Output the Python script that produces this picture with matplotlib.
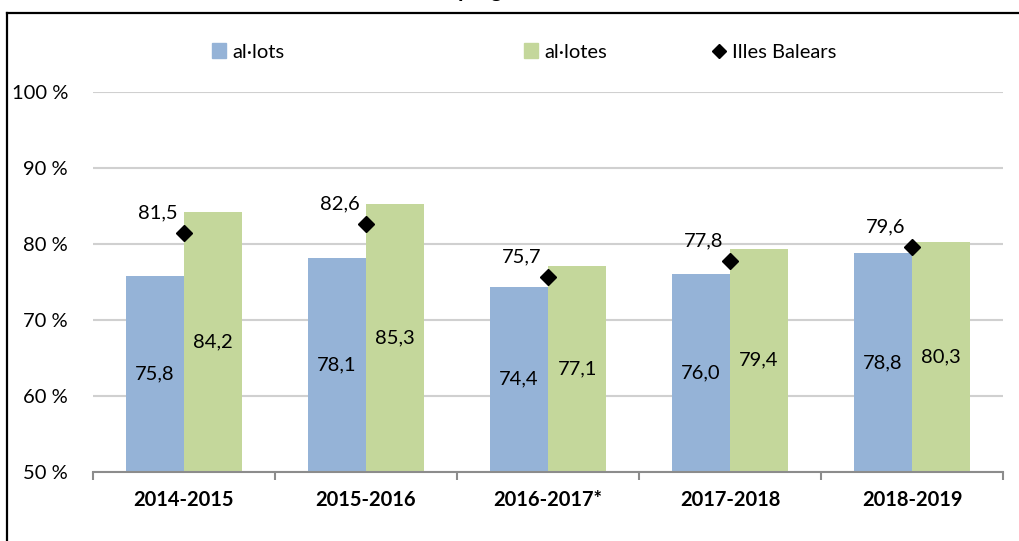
import numpy as np
import matplotlib.pyplot as plt
from matplotlib.patches import Patch
from matplotlib.lines import Line2D

plt.rcParams['font.family'] = ['Lato', 'DejaVu Sans']

cursos = ['2014-2015', '2015-2016', '2016-2017*', '2017-2018', '2018-2019']
allots = [75.8, 78.1, 74.4, 76.0, 78.8]
allotes = [84.2, 85.3, 77.1, 79.4, 80.3]
balears = [81.5, 82.6, 75.7, 77.8, 79.6]
yticks = [50, 60, 70, 80, 90, 100]

c_blue = '#95b3d7'
c_green = '#c4d79b'

W, H = 1019, 541
fig = plt.figure(figsize=(W / 100, H / 100), dpi=100)
ax = fig.add_axes([93 / W, 1 - 472 / H, (1003 - 93) / W, (472 - 92) / H])

x = np.arange(len(cursos))
bw = 0.32
fs = 14.5
ax.bar(x - bw / 2, allots, bw, bottom=0, color=c_blue, zorder=2)
ax.bar(x + bw / 2, allotes, bw, bottom=0, color=c_green, zorder=2)
ax.plot(x, balears, ls='none', marker='D', ms=8.5, color='black', zorder=4)

for xi, v in zip(x, allots):
    ax.text(xi - bw / 2, (50 + v) / 2, f'{v:.1f}'.replace('.', ','),
            ha='center', va='center', fontsize=fs, zorder=5)
for xi, v in zip(x, allotes):
    ax.text(xi + bw / 2, (50 + v) / 2, f'{v:.1f}'.replace('.', ','),
            ha='center', va='center', fontsize=fs, zorder=5)
for xi, v in zip(x, balears):
    ax.annotate(f'{v:.1f}'.replace('.', ','), (xi, v), xytext=(-26, 20),
                textcoords='offset pixels', ha='center', va='center',
                fontsize=fs, zorder=5)

ax.set_xlim(-0.5, len(cursos) - 0.5)
ax.set_ylim(50, 100)
ax.set_yticks(yticks)
ax.set_yticklabels([f'{t} %' for t in yticks], fontsize=fs)
ax.yaxis.grid(True, color='#d0d0d0', lw=1.5, zorder=0)
ax.set_axisbelow(True)
ax.tick_params(axis='y', length=0, pad=18)

ax.set_xticks(x)
ax.set_xticklabels(cursos, fontsize=fs, fontweight='bold')
ax.set_xticks(np.arange(len(cursos) + 1) - 0.5, minor=True)
ax.tick_params(axis='x', which='major', length=0, pad=13)
ax.tick_params(axis='x', which='minor', length=6, color='#8c8c8c', width=1.5)

for s in ['top', 'right', 'left']:
    ax.spines[s].set_visible(False)
ax.spines['bottom'].set_color('#8c8c8c')
ax.spines['bottom'].set_linewidth(1.5)

# legend entries
ly = 1 - 52 / H
fig.legend(handles=[Patch(color=c_blue, label='al·lots')], loc='center left',
           bbox_to_anchor=(194 / W, ly), frameon=False, fontsize=fs,
           handlelength=0.7, handleheight=0.7, handletextpad=0.3)
fig.legend(handles=[Patch(color=c_green, label='al·lotes')], loc='center left',
           bbox_to_anchor=(506 / W, ly), frameon=False, fontsize=fs,
           handlelength=0.7, handleheight=0.7, handletextpad=0.3)
fig.legend(handles=[Line2D([], [], ls='none', marker='D', ms=7.5, color='black',
                           label='Illes Balears')], loc='center left',
           bbox_to_anchor=(692 / W, ly), frameon=False, fontsize=fs,
           handlelength=0.9, handletextpad=0.2)

# frame (top and left edges visible)
fig.add_artist(Line2D([7 / W, 1], [1 - 13 / H, 1 - 13 / H], color='black', lw=1.6))
fig.add_artist(Line2D([7 / W, 7 / W], [0, 1 - 13 / H], color='black', lw=1.6))

# clipped title, only descenders visible
fig.text(458 / W, 1 + 3 / H, 'progrés', fontsize=16, fontweight='bold',
         ha='left', va='baseline')

fig.savefig('out.png', dpi=100)
